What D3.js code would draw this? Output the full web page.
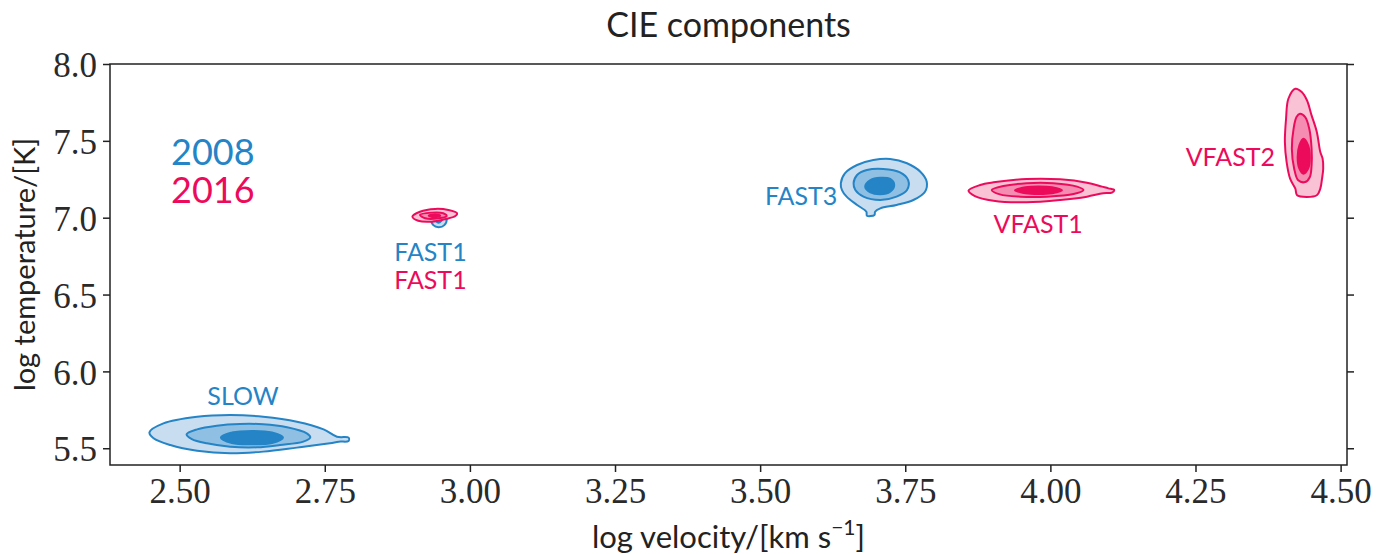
<!DOCTYPE html>
<html>
<head>
<meta charset="UTF-8">
<title>CIE components</title>
<script src="https://cdn.jsdelivr.net/npm/d3@7"></script>
<style>
  body { margin: 0; background: #fff; }
  .tick-lbl { font-family: "Liberation Serif", serif; font-size: 35px; fill: #2a2a2a; }
  .sans { font-family: Lato, "DejaVu Sans", sans-serif; }
</style>
</head>
<body>
<script>

    // ---- data (log velocity, log temperature) ----
    var xTicks = [2.50, 2.75, 3.00, 3.25, 3.50, 3.75, 4.00, 4.25, 4.50];
    var yTicks = [5.5, 6.0, 6.5, 7.0, 7.5, 8.0];
    var years = ["2008", "2016"];

    // 2008 components: outer / middle / inner contour
    var slowOuter = [[2.448,5.604],[2.472,5.662],[2.530,5.705],[2.587,5.716],[2.644,5.705],[2.702,5.673],[2.748,5.623],[2.771,5.575],[2.791,5.569],[2.791,5.547],[2.774,5.543],[2.759,5.532],[2.702,5.504],[2.644,5.478],[2.587,5.467],[2.530,5.484],[2.484,5.521],[2.455,5.565]];
    var slowMid = [[2.512,5.591],[2.530,5.623],[2.564,5.647],[2.604,5.658],[2.644,5.656],[2.685,5.636],[2.719,5.597],[2.725,5.571],[2.713,5.543],[2.673,5.521],[2.633,5.506],[2.587,5.510],[2.547,5.532],[2.521,5.560]];
    var slowInner = [[2.571,5.570],[2.590,5.602],[2.625,5.612],[2.659,5.602],[2.678,5.570],[2.659,5.534],[2.625,5.526],[2.590,5.534]];

    var fast1BlueOuter = [[2.933,6.996],[2.937,7.029],[2.946,7.039],[2.954,7.029],[2.960,6.996],[2.956,6.952],[2.946,6.938],[2.937,6.952]];
    var fast1BlueMid = [[2.939,6.996],[2.946,7.018],[2.953,6.996],[2.946,6.967]];
    var fast1BlueInner = [[2.943,6.990],[2.946,7.000],[2.949,6.990],[2.946,6.980]];

    var fast3Outer = [[3.639,7.224],[3.646,7.289],[3.667,7.343],[3.695,7.375],[3.724,7.382],[3.753,7.354],[3.776,7.299],[3.787,7.234],[3.784,7.169],[3.764,7.115],[3.735,7.083],[3.707,7.061],[3.698,7.039],[3.697,7.018],[3.684,7.013],[3.683,7.039],[3.667,7.083],[3.649,7.137],[3.641,7.180]];
    var fast3Mid = [[3.661,7.224],[3.667,7.278],[3.684,7.310],[3.712,7.317],[3.741,7.295],[3.755,7.245],[3.753,7.180],[3.735,7.137],[3.707,7.115],[3.678,7.137],[3.664,7.180]];
    var fast3Inner = [[3.681,7.202],[3.690,7.245],[3.707,7.260],[3.724,7.252],[3.731,7.213],[3.724,7.169],[3.707,7.152],[3.690,7.165]];

    // 2016 components
    var fast1PinkOuter = [[2.901,7.007],[2.914,7.039],[2.940,7.057],[2.963,7.050],[2.978,7.029],[2.975,7.011],[2.957,6.990],[2.934,6.974],[2.911,6.980]];
    var fast1PinkMid = [[2.914,7.018],[2.934,7.033],[2.954,7.029],[2.960,7.011],[2.946,6.996],[2.923,6.996]];
    var fast1PinkInner = [[2.929,7.013],[2.940,7.022],[2.949,7.013],[2.940,7.003]];

    var vfast1Outer = [[3.859,7.176],[3.879,7.213],[3.902,7.230],[3.959,7.252],[4.017,7.250],[4.063,7.228],[4.089,7.202],[4.100,7.191],[4.110,7.180],[4.106,7.163],[4.091,7.159],[4.063,7.137],[4.017,7.115],[3.959,7.100],[3.902,7.111],[3.870,7.141]];
    var vfast1Mid = [[3.899,7.180],[3.919,7.206],[3.959,7.224],[4.005,7.224],[4.046,7.202],[4.057,7.180],[4.040,7.154],[3.994,7.137],[3.948,7.137],[3.913,7.152]];
    var vfast1Inner = [[3.939,7.178],[3.957,7.198],[3.979,7.203],[4.003,7.198],[4.020,7.178],[4.003,7.159],[3.979,7.154],[3.957,7.159]];

    var vfast2Outer = [[4.422,7.839],[4.433,7.818],[4.442,7.764],[4.450,7.666],[4.459,7.558],[4.465,7.427],[4.469,7.384],[4.470,7.319],[4.468,7.254],[4.465,7.189],[4.459,7.146],[4.442,7.135],[4.425,7.146],[4.422,7.189],[4.413,7.254],[4.407,7.362],[4.404,7.493],[4.406,7.644],[4.410,7.774]];
    var vfast2Mid = [[4.430,7.677],[4.439,7.655],[4.446,7.579],[4.450,7.449],[4.450,7.341],[4.447,7.265],[4.439,7.232],[4.427,7.243],[4.420,7.319],[4.416,7.449],[4.419,7.579],[4.424,7.655]];
    var vfast2Inner = [[4.436,7.514],[4.444,7.471],[4.447,7.395],[4.444,7.319],[4.436,7.286],[4.429,7.319],[4.426,7.395],[4.429,7.471]];

    // component labels: name, year, anchor point (data units)
    var labelNames = ["SLOW", "FAST1", "FAST3", "FAST1", "VFAST1", "VFAST2"];
    var labelYears = ["2008", "2008", "2008", "2016", "2016", "2016"];
    var labelPos = [[2.609,5.781],[2.932,6.718],[3.633,7.083],[2.932,6.536],[3.979,6.900],[4.387,7.336]];
    var labelAnchor = ["middle", "middle", "end", "middle", "middle", "end"];

    // ---- layout ----
    var width = 1386, height = 554;
    // 注意: 不能用 top 當變數名 (window.top)
    var plotL = 110, plotR = 1347, plotT = 64, plotB = 465;

    var colors = {
        "2008": { line: "#2484c6", fills: ["#c8ddf0", "#8fc0e3", "#2484c6"] },
        "2016": { line: "#ec0b5b", fills: ["#f9c2d5", "#f58db2", "#ec0b5b"] }
    };

    var components = [
        { year: "2008", levels: [slowOuter, slowMid, slowInner] },
        { year: "2008", levels: [fast3Outer, fast3Mid, fast3Inner] },
        { year: "2008", levels: [fast1BlueOuter, fast1BlueMid, fast1BlueInner] },
        { year: "2016", levels: [fast1PinkOuter, fast1PinkMid, fast1PinkInner] },
        { year: "2016", levels: [vfast1Outer, vfast1Mid, vfast1Inner] },
        { year: "2016", levels: [vfast2Outer, vfast2Mid, vfast2Inner] }
    ];

    var x = d3.scaleLinear().domain([2.38, 4.511]).range([plotL, plotR]);
    var y = d3.scaleLinear().domain([5.391, 8.0]).range([plotB, plotT]);

    var svg = d3.select("body").append("svg")
        .attr("width", width)
        .attr("height", height);

    // 等高線
    var line = d3.line()
        .x(function(d) { return x(d[0]); })
        .y(function(d) { return y(d[1]); })
        .curve(d3.curveCatmullRomClosed.alpha(0.5));

    var contourLayer = svg.append("g");
    components.forEach(function(c) {
        var col = colors[c.year];
        contourLayer.append("g").selectAll("path")
            .data(c.levels)
            .enter()
            .append("path")
            .attr("d", line)
            .attr("fill", function(d, i) { return col.fills[i]; })
            .attr("stroke", col.line)
            .attr("stroke-width", 2)
            .attr("stroke-linejoin", "round");
    });

    // labels
    svg.append("g").selectAll("text")
        .data(labelNames)
        .enter()
        .append("text")
        .attr("class", "sans")
        .attr("x", function(d, i) { return x(labelPos[i][0]); })
        .attr("y", function(d, i) { return y(labelPos[i][1]); })
        .attr("text-anchor", function(d, i) { return labelAnchor[i]; })
        .style("font-size", "25px")
        .style("fill", function(d, i) { return colors[labelYears[i]].line; })
        .text(function(d) { return d; });

    // year legend
    svg.append("g").selectAll("text")
        .data(years)
        .enter()
        .append("text")
        .attr("class", "sans")
        .attr("x", 171)
        .attr("y", function(d, i) { return 165 + i * 38; })
        .style("font-size", "36px")
        .style("fill", function(d) { return colors[d].line; })
        .text(function(d) { return d; });

    // axes
    var xAxis = svg.append("g")
        .attr("transform", "translate(0," + plotB + ")")
        .call(d3.axisBottom(x).tickValues(xTicks).tickFormat(d3.format(".2f")).tickSizeInner(7).tickSizeOuter(0).tickPadding(6));
    var yAxis = svg.append("g")
        .attr("transform", "translate(" + plotL + ",0)")
        .call(d3.axisLeft(y).tickValues(yTicks).tickFormat(d3.format(".1f")).tickSizeInner(7).tickSizeOuter(0).tickPadding(6));
    var yAxisR = svg.append("g")
        .attr("transform", "translate(" + plotR + ",0)")
        .call(d3.axisRight(y).tickValues(yTicks).tickFormat("").tickSizeInner(7).tickSizeOuter(0));

    [xAxis, yAxis, yAxisR].forEach(function(a) {
        a.select(".domain").remove();
        a.selectAll(".tick line").attr("stroke", "#222").attr("stroke-width", 1.5);
        a.selectAll(".tick text").attr("class", "tick-lbl").attr("font-size", null).attr("font-family", null);
    });
    yAxis.selectAll(".tick text").attr("dy", "0.36em");

    // frame
    svg.append("rect")
        .attr("x", plotL).attr("y", plotT)
        .attr("width", plotR - plotL).attr("height", plotB - plotT)
        .attr("fill", "none")
        .attr("stroke", "#222")
        .attr("stroke-width", 1.5);

    // title and axis titles
    svg.append("text")
        .attr("class", "sans")
        .attr("x", (plotL + plotR) / 2).attr("y", 37)
        .attr("text-anchor", "middle")
        .style("font-size", "34px")
        .style("fill", "#222")
        .text("CIE components");

    var xl = svg.append("text")
        .attr("class", "sans")
        .attr("x", (plotL + plotR) / 2).attr("y", 548)
        .attr("text-anchor", "middle")
        .style("font-size", "31px")
        .style("fill", "#222");
    xl.append("tspan").text("log velocity/[km s");
    xl.append("tspan").attr("dy", -13).style("font-size", "21px").text("\u22121");
    xl.append("tspan").attr("dy", 13).text("]");

    svg.append("text")
        .attr("class", "sans")
        .attr("transform", "translate(35," + ((plotT + plotB) / 2) + ") rotate(-90)")
        .attr("text-anchor", "middle")
        .style("font-size", "29px")
        .style("fill", "#222")
        .text("log temperature/[K]");

</script>
</body>
</html>
